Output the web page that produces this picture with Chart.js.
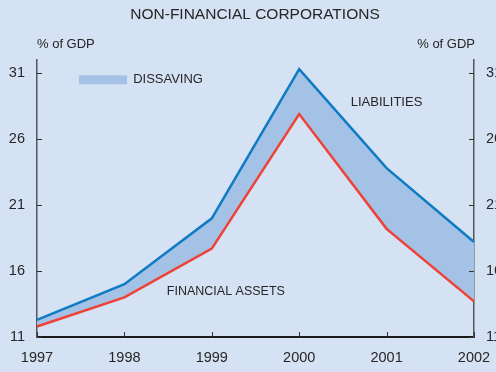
<!DOCTYPE html>
<html>
<head>
<meta charset="utf-8">
<script src="https://cdn.jsdelivr.net/npm/chart.js@4/dist/chart.umd.min.js"></script>
<style>
  html, body { margin: 0; padding: 0; background: #d5e2f3; overflow: hidden; }
  #wrap { position: relative; width: 520px; height: 372px; }
</style>
</head>
<body>
<div id="wrap"><canvas id="c"></canvas></div>
<script>
// Non-financial corporations, % of GDP
const years = ['1997', '1998', '1999', '2000', '2001', '2002'];
const liabilities = [12.3, 15.0, 20.0, 31.3, 23.8, 18.2];
const financialAssets = [11.8, 14.0, 17.7, 27.9, 19.2, 13.7];
const yTicks = [11, 16, 21, 26, 31];

const FONT = '"Liberation Sans", Arial, sans-serif';
const TEXT = '#262626';
const GAP_FILL = '#a4c2e5';

// Inward tick marks, title, unit captions and in-chart labels
const decor = {
  id: 'decor',
  afterDraw(chart) {
    const { ctx, chartArea: a, scales } = chart;
    const x = scales.x, yl = scales.y;
    ctx.save();
    ctx.strokeStyle = '#333';
    ctx.lineWidth = 1;
    yTicks.forEach(v => {
      const py = Math.round(yl.getPixelForValue(v)) + 0.5;
      ctx.beginPath(); ctx.moveTo(a.left, py); ctx.lineTo(a.left + 5, py); ctx.stroke();
      ctx.beginPath(); ctx.moveTo(a.right, py); ctx.lineTo(a.right - 5, py); ctx.stroke();
    });
    years.forEach((_, i) => {
      const px = Math.round(x.getPixelForValue(i)) + 0.5;
      ctx.beginPath(); ctx.moveTo(px, a.bottom); ctx.lineTo(px, a.bottom - 5); ctx.stroke();
    });

    ctx.fillStyle = TEXT;
    ctx.textBaseline = 'middle';
    ctx.font = '15.5px ' + FONT;
    ctx.textAlign = 'center';
    ctx.fillText('NON-FINANCIAL CORPORATIONS', 255, 15);

    ctx.font = '13px ' + FONT;
    ctx.textAlign = 'left';
    ctx.fillText('% of GDP', a.left, 44);
    ctx.textAlign = 'right';
    ctx.fillText('% of GDP', a.right + 1, 44);

    // legend swatch for the shaded gap
    const sx0 = x.getPixelForValue(0.48), sx1 = x.getPixelForValue(1.03);
    const sy = yl.getPixelForValue(30.5);
    ctx.fillStyle = GAP_FILL;
    ctx.fillRect(sx0, sy - 4.5, sx1 - sx0, 9);
    ctx.fillStyle = TEXT;
    ctx.textAlign = 'left';
    ctx.font = '13px ' + FONT;
    ctx.fillText('DISSAVING', x.getPixelForValue(1.1), sy);
    ctx.fillText('LIABILITIES', x.getPixelForValue(3.59), yl.getPixelForValue(28.8));
    ctx.font = '12.5px ' + FONT;
    ctx.fillText('FINANCIAL ASSETS', x.getPixelForValue(1.485), yl.getPixelForValue(14.45));
    ctx.restore();
  }
};

const tickFont = { family: FONT, size: 14.5 };

new Chart(document.getElementById('c'), {
  type: 'line',
  data: {
    labels: years,
    datasets: [
      {
        label: 'Liabilities',
        data: liabilities,
        borderColor: '#0f7bc4',
        borderWidth: 2.5,
        fill: false,
        pointRadius: 0,
        tension: 0,
        yAxisID: 'y'
      },
      {
        label: 'Financial assets',
        data: financialAssets,
        borderColor: '#ef4136',
        borderWidth: 2.5,
        backgroundColor: GAP_FILL,
        fill: '-1',
        pointRadius: 0,
        tension: 0,
        yAxisID: 'y'
      }
    ]
  },
  options: {
    responsive: true,
    maintainAspectRatio: false,
    animation: false,
    devicePixelRatio: 1,
    layout: { padding: { top: 60, left: 0, right: 0, bottom: 0 } },
    plugins: { legend: { display: false }, title: { display: false }, tooltip: { enabled: false } },
    scales: {
      x: {
        offset: false,
        grid: { display: false, drawTicks: false },
        border: { display: true, color: '#1a1a1a', width: 2 },
        ticks: { color: TEXT, font: tickFont, padding: 12, maxRotation: 0, autoSkip: false },
        afterFit(s) { s.height = 35; }
      },
      y: {
        position: 'left',
        min: 11, max: 32,
        grid: { display: false, drawTicks: false },
        border: { display: true, color: '#555', width: 1.5 },
        ticks: { color: TEXT, font: tickFont, padding: 12 },
        afterBuildTicks(s) { s.ticks = yTicks.map(v => ({ value: v })); },
        afterFit(s) { s.width = 37; }
      },
      y2: {
        position: 'right',
        min: 11, max: 32,
        grid: { display: false, drawTicks: false },
        border: { display: true, color: '#555', width: 1.5 },
        ticks: { color: TEXT, font: tickFont, padding: 12 },
        afterBuildTicks(s) { s.ticks = yTicks.map(v => ({ value: v })); },
        afterFit(s) { s.width = 46; }
      }
    }
  },
  plugins: [decor]
});
</script>
</body>
</html>
